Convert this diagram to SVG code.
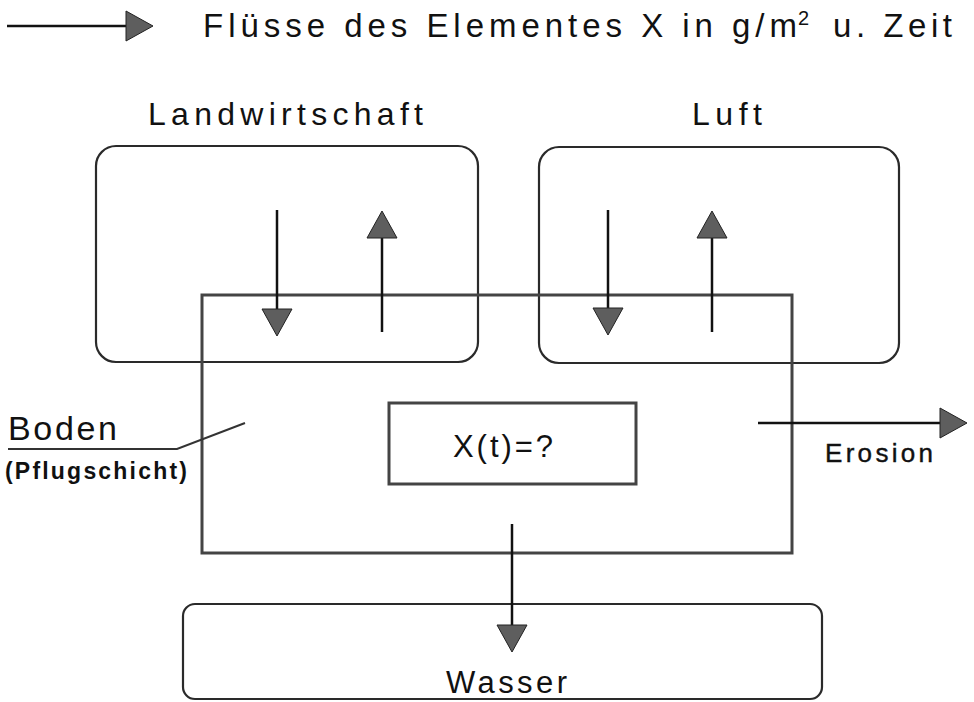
<svg xmlns="http://www.w3.org/2000/svg" width="974" height="702" viewBox="0 0 974 702">
<style>
.t{font-family:"Liberation Sans",Arial,sans-serif;fill:#111}
.box{fill:none;stroke:#2a2a2a;stroke-width:2.2}
.boden{fill:none;stroke:#444;stroke-width:3}
.flow{fill:none;stroke:#111;stroke-width:2.5;marker-end:url(#ah)}
.lead{fill:none;stroke:#333;stroke-width:2}
</style>
<defs>
<marker id="ah" markerUnits="userSpaceOnUse" markerWidth="30" markerHeight="32" viewBox="-1 -1 30 32" refX="17" refY="15" orient="auto">
<path d="M0,0 L27,15 L0,30 Z" fill="#5e5e5e" stroke="#222" stroke-width="1"/>
</marker>
</defs>
<rect width="974" height="702" fill="#fff"/>
<g id="legend">
<path class="flow" d="M7,26 H143"/>
<text class="t" x="203" y="37" font-size="33" textLength="594" lengthAdjust="spacing">Flüsse des Elementes X in g/m</text>
<text class="t" x="798" y="25" font-size="20">2</text>
<text class="t" x="833" y="37" font-size="33" textLength="119" lengthAdjust="spacing">u. Zeit</text>
</g>
<g id="landwirtschaft">
<rect class="box" x="96" y="146" width="382" height="216" rx="20"/>
<text class="t" x="148" y="125" font-size="32" textLength="275" lengthAdjust="spacing">Landwirtschaft</text>
</g>
<g id="luft">
<rect class="box" x="539" y="147" width="360" height="216" rx="20"/>
<text class="t" x="692" y="125" font-size="32" textLength="70" lengthAdjust="spacing">Luft</text>
</g>
<g id="boden">
<rect class="boden" x="202" y="295" width="590" height="258"/>
<text class="t" x="8" y="440" font-size="34" textLength="109" lengthAdjust="spacing">Boden</text>
<text class="t" x="5" y="479" font-size="23" font-weight="bold" textLength="182" lengthAdjust="spacing">(Pflugschicht)</text>
<polyline class="lead" points="8,449 177,449 245,423"/>
</g>
<g id="xt">
<rect class="boden" x="389" y="403" width="247" height="81"/>
<text class="t" x="453" y="457" font-size="31" textLength="100" lengthAdjust="spacing">X(t)=?</text>
</g>
<g id="wasser">
<rect class="box" x="183" y="604" width="639" height="95" rx="12"/>
<text class="t" x="446" y="693" font-size="31" textLength="121" lengthAdjust="spacing">Wasser</text>
</g>
<g id="erosion-label">
<text class="t" x="825" y="462" font-size="26" stroke="#111" stroke-width="0.4" textLength="108" lengthAdjust="spacing">Erosion</text>
</g>
<g id="connectors">
<path class="flow" d="M277,210 V326"/>
<path class="flow" d="M382,332 V221"/>
<path class="flow" d="M608,210 V325"/>
<path class="flow" d="M712,332 V221"/>
<path class="flow" d="M758,423 H957"/>
<path class="flow" d="M512,524 V642"/>
</g>
</svg>
